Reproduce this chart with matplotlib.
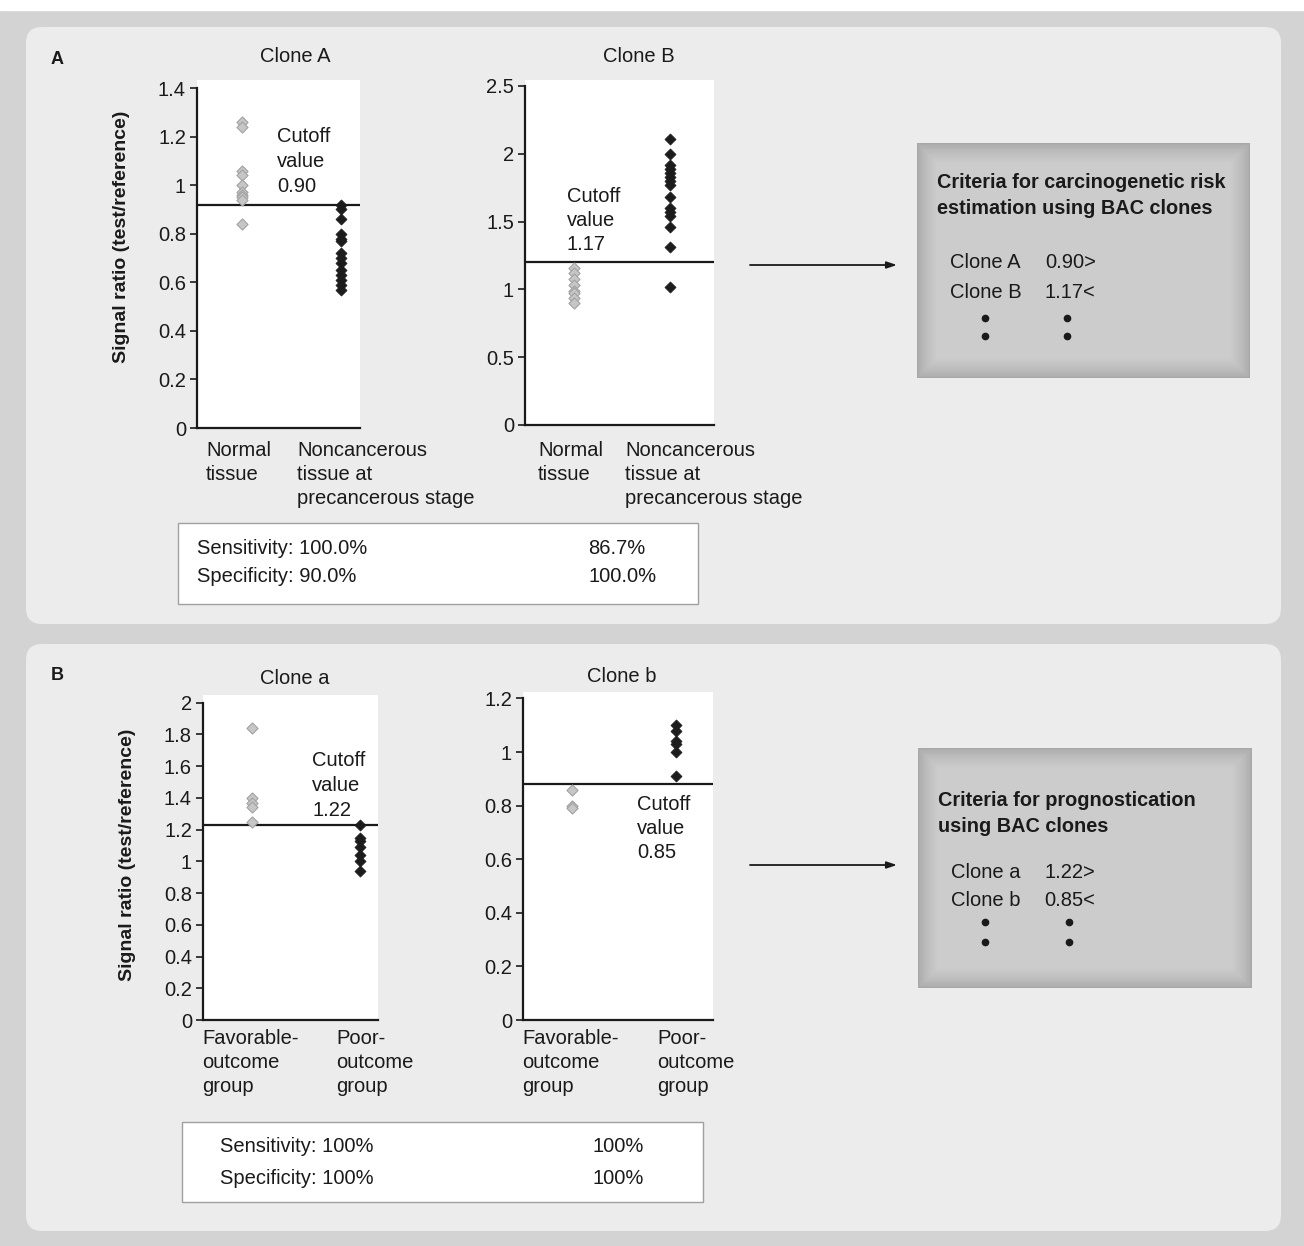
import matplotlib
matplotlib.use("Agg")
import matplotlib.pyplot as plt
import numpy as np
from matplotlib.patches import FancyBboxPatch, Rectangle

plt.rcParams["font.family"] = ["Liberation Sans", "DejaVu Sans"]

W, H = 1304, 1246
FS = 14.5

# values
clone_A_normal = [1.26, 1.24, 1.06, 1.04, 1.00, 0.97, 0.96, 0.95, 0.94, 0.84]
clone_A_precancer = [0.92, 0.90, 0.86, 0.80, 0.78, 0.77, 0.72, 0.70, 0.68,
                     0.65, 0.63, 0.61, 0.59, 0.57]
clone_B_normal = [1.16, 1.12, 1.08, 1.03, 0.99, 0.97, 0.94, 0.90]
clone_B_precancer = [2.11, 2.00, 1.92, 1.89, 1.86, 1.83, 1.80, 1.77, 1.68,
                     1.60, 1.57, 1.54, 1.46, 1.31, 1.02]
clone_a_favorable = [1.84, 1.40, 1.37, 1.34, 1.25]
clone_a_poor = [1.23, 1.15, 1.13, 1.09, 1.04, 1.00, 0.94]
clone_b_favorable = [0.86, 0.80, 0.79]
clone_b_poor = [1.10, 1.08, 1.04, 1.03, 1.00, 0.91]

cutoff_lines = [0.92, 1.20, 1.23, 0.88]
cutoff_labels = ["0.90", "1.17", "1.22", "0.85"]
titles = ["Clone A", "Clone B", "Clone a", "Clone b"]

ticks_A = [0, 0.2, 0.4, 0.6, 0.8, 1, 1.2, 1.4]
ticks_B = [0, 0.5, 1, 1.5, 2, 2.5]
ticks_a = [0, 0.2, 0.4, 0.6, 0.8, 1, 1.2, 1.4, 1.6, 1.8, 2]
ticks_b = [0, 0.2, 0.4, 0.6, 0.8, 1, 1.2]

cats_top = ["Normal\ntissue", "Noncancerous\ntissue at\nprecancerous stage"]
cats_bot = ["Favorable-\noutcome\ngroup", "Poor-\noutcome\ngroup"]

sens_A = ["Sensitivity: 100.0%", "Specificity: 90.0%", "86.7%", "100.0%"]
sens_B = ["Sensitivity: 100%", "Specificity: 100%", "100%", "100%"]

crit_A = [("Clone A", "0.90>"), ("Clone B", "1.17<")]
crit_B = [("Clone a", "1.22>"), ("Clone b", "0.85<")]

fig = plt.figure(figsize=(W / 100, H / 100), dpi=100, facecolor="#d3d3d3")

# background layer in pixel coordinates
bg = fig.add_axes([0, 0, 1, 1], zorder=0)
bg.set_xlim(0, W)
bg.set_ylim(H, 0)
bg.axis("off")
bg.add_patch(Rectangle((0, 0), W, 10, color="white", zorder=0))
for (y0, y1) in [(27, 624), (644, 1231)]:
    bg.add_patch(FancyBboxPatch((26, y0), 1255, y1 - y0,
                                boxstyle="round,pad=0,rounding_size=16",
                                fc="#ececec", ec="none", zorder=1))


def shaded_box(x0, y0, x1, y1):
    ny, nx = int(y1 - y0), int(x1 - x0)
    yy, xx = np.mgrid[0:ny, 0:nx]
    d = np.minimum.reduce([xx, nx - 1 - xx, yy, ny - 1 - yy]).astype(float)
    v = 0.66 + 0.14 * np.clip(d / 20.0, 0, 1) ** 0.7
    bg.imshow(v, cmap="gray", vmin=0, vmax=1, extent=(x0, x1, y1, y0),
              aspect="auto", zorder=2, interpolation="bilinear")


shaded_box(917, 143, 1250, 378)
shaded_box(918, 748, 1252, 988)
bg.add_patch(Rectangle((178, 523), 520, 81, fc="white", ec="#a0a0a0", lw=1, zorder=2))
bg.add_patch(Rectangle((182, 1122), 521, 80, fc="white", ec="#a0a0a0", lw=1, zorder=2))
bg.set_xlim(0, W)
bg.set_ylim(H, 0)

# top layer for text
top = fig.add_axes([0, 0, 1, 1], zorder=5)
top.set_xlim(0, W)
top.set_ylim(H, 0)
top.axis("off")
top.patch.set_alpha(0)


def txt(x, y, s, **kw):
    kw.setdefault("fontsize", FS)
    kw.setdefault("va", "center")
    kw.setdefault("ha", "left")
    top.text(x, y, s, color="#1a1a1a", **kw)


def lines(x, y0, dy, items, **kw):
    for i, s in enumerate(items):
        txt(x, y0 + i * dy, s, **kw)


# scatter panels: (left, right, top, bottom in px), ylim top, xlim
panels = [
    dict(px=(197, 360, 80, 428), ymax=1.433, ticks=ticks_A, xl=(-0.455, 1.19),
         g=clone_A_normal, k=clone_A_precancer),
    dict(px=(525, 714, 80, 425), ymax=2.544, ticks=ticks_B, xl=(-0.51, 1.458),
         g=clone_B_normal, k=clone_B_precancer),
    dict(px=(203, 378, 695, 1020), ymax=2.048, ticks=ticks_a, xl=(-0.454, 1.167),
         g=clone_a_favorable, k=clone_a_poor),
    dict(px=(523, 713, 692, 1020), ymax=1.224, ticks=ticks_b, xl=(-0.471, 1.356),
         g=clone_b_favorable, k=clone_b_poor),
]

for i, p in enumerate(panels):
    l, r, t, b = p["px"]
    ax = fig.add_axes([l / W, 1 - b / H, (r - l) / W, (b - t) / H], zorder=2)
    ax.set_facecolor("white")
    ax.scatter(np.zeros(len(p["g"])), p["g"], marker="D", s=32, fc="#c6c6c6",
               ec="#a2a2a2", lw=0.8, zorder=3, clip_on=False)
    ax.scatter(np.ones(len(p["k"])), p["k"], marker="D", s=32, fc="#1c1c1c",
               ec="#1c1c1c", lw=0.5, zorder=3, clip_on=False)
    ax.axhline(cutoff_lines[i], color="#1a1a1a", lw=1.6, zorder=2)
    ax.set_xlim(*p["xl"])
    ax.set_ylim(0, p["ymax"])
    ax.set_xticks([])
    ax.set_yticks(p["ticks"])
    ax.set_yticklabels([f"{v:g}" for v in p["ticks"]])
    ax.tick_params(axis="y", length=5, width=1.2, labelsize=FS, pad=3,
                   colors="#1a1a1a")
    for s in ("top", "right"):
        ax.spines[s].set_visible(False)
    for s in ("left", "bottom"):
        ax.spines[s].set_linewidth(1.6)
        ax.spines[s].set_color("#1a1a1a")
    ax.spines["left"].set_bounds(0, p["ticks"][-1])

# titles
txt(295, 57, titles[0], ha="center")
txt(639, 57, titles[1], ha="center")
txt(295, 678, titles[2], ha="center")
txt(622, 677, titles[3], ha="center")
txt(51, 60, "A", fontsize=13, fontweight="bold")
txt(51, 675, "B", fontsize=13, fontweight="bold")
txt(122, 237, "Signal ratio (test/reference)", rotation=90, ha="center",
    fontweight="bold", fontsize=14)
txt(128, 855, "Signal ratio (test/reference)", rotation=90, ha="center",
    fontweight="bold", fontsize=14)

# cutoff labels
for (x, y), lab in zip([(277, 137), (567, 196), (312, 761), (637, 804)], cutoff_labels):
    lines(x, y, 24.5, ["Cutoff", "value", lab])

# category labels
for x0, x1 in [(206, 297), (538, 625)]:
    lines(x0, 451, 23.5, cats_top[0].split("\n"))
    lines(x1, 451, 23.5, cats_top[1].split("\n"))
for x0, x1 in [(202, 336), (522, 657)]:
    lines(x0, 1038, 24.5, cats_bot[0].split("\n"))
    lines(x1, 1038, 24.5, cats_bot[1].split("\n"))

# sensitivity boxes
lines(197, 548, 29, sens_A[:2])
lines(588, 548, 29, sens_A[2:])
lines(220, 1146, 32, sens_B[:2])
lines(593, 1146, 32, sens_B[2:])

# arrows
for y in (265, 865):
    top.annotate("", xy=(897, y), xytext=(750, y),
                 arrowprops=dict(arrowstyle="-|>,head_length=0.6,head_width=0.2",
                                 color="#1a1a1a", lw=1.3, shrinkA=0, shrinkB=0))

# criteria boxes
lines(937, 183, 26, ["Criteria for carcinogenetic risk", "estimation using BAC clones"],
      fontweight="bold", fontsize=14.3)
for j, (c, v) in enumerate(crit_A):
    txt(950, 263 + 29 * j, c)
    txt(1045, 263 + 29 * j, v)
lines(938, 801, 25.5, ["Criteria for prognostication", "using BAC clones"],
      fontweight="bold", fontsize=14.3)
for j, (c, v) in enumerate(crit_B):
    txt(951, 872 + 29 * j, c)
    txt(1044, 872 + 29 * j, v)
for xs, ys in [((985, 1067), (318, 336)), ((985, 1069), (922, 942))]:
    for x in xs:
        for y in ys:
            top.plot(x, y, "o", color="#1a1a1a", ms=4.5)

fig.savefig("out.png", dpi=100, facecolor=fig.get_facecolor())
